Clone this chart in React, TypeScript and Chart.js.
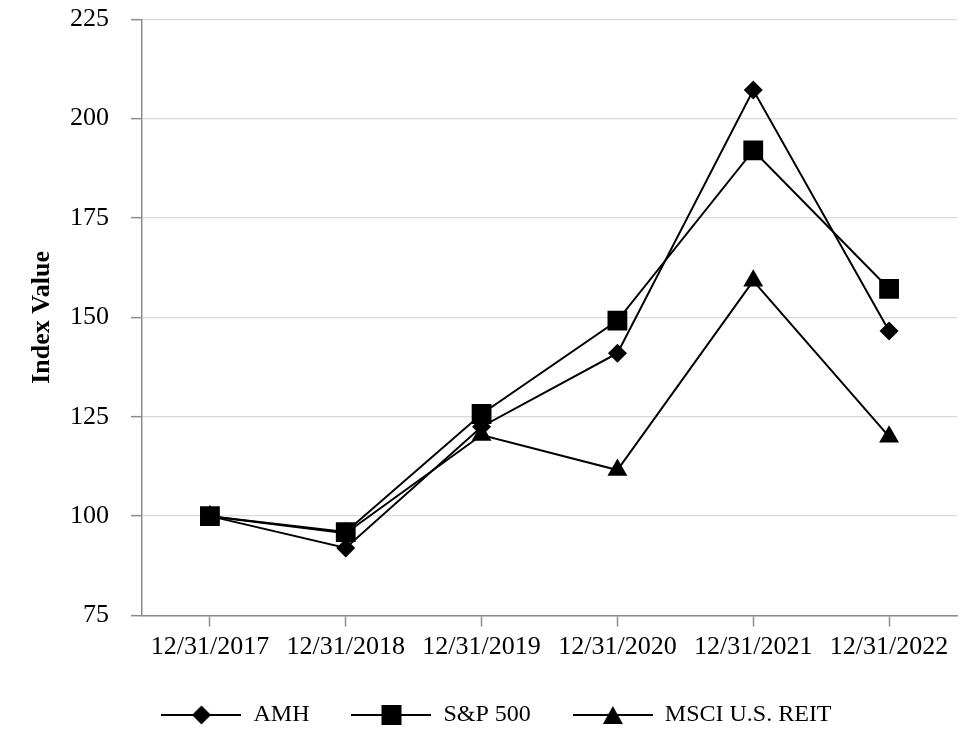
import React, { useEffect, useRef } from "react";
import { Chart, registerables } from "chart.js";

Chart.register(...registerables);

const categories = ["12/31/2017", "12/31/2018", "12/31/2019", "12/31/2020", "12/31/2021", "12/31/2022"];
const seriesNames = ["AMH", "S&P 500", "MSCI U.S. REIT"];
const amhValues = [100, 92.0, 122.5, 141.0, 207.2, 146.6];
const spValues = [100, 96.0, 125.7, 149.2, 192.0, 157.2];
const reitValues = [100, 95.7, 120.4, 111.6, 159.2, 120.0];
const yMin = 75;
const yMax = 225;
const yStep = 25;
const yTitle = "Index Value";

const FONT = "'Liberation Serif', 'Times New Roman', serif";

function makeLegendIcon(shape: string): HTMLCanvasElement {
  const c = document.createElement("canvas");
  c.width = 80;
  c.height = 24;
  const ctx = c.getContext("2d")!;
  ctx.strokeStyle = "#000";
  ctx.lineWidth = 2;
  ctx.beginPath();
  ctx.moveTo(0, 12);
  ctx.lineTo(80, 12);
  ctx.stroke();
  ctx.fillStyle = "#000";
  const cx = 40;
  const cy = 12;
  ctx.beginPath();
  if (shape === "rectRot") {
    const r = 9.5;
    ctx.moveTo(cx - r, cy);
    ctx.lineTo(cx, cy - r);
    ctx.lineTo(cx + r, cy);
    ctx.lineTo(cx, cy + r);
    ctx.closePath();
  } else if (shape === "rect") {
    const s = 10;
    ctx.rect(cx - s, cy - s, 2 * s, 2 * s);
  } else {
    ctx.moveTo(cx, cy - 9);
    ctx.lineTo(cx + 10, cy + 9);
    ctx.lineTo(cx - 10, cy + 9);
    ctx.closePath();
  }
  ctx.fill();
  return c;
}

export default function App() {
  const ref = useRef<HTMLCanvasElement | null>(null);

  useEffect(() => {
    if (!ref.current) return;
    const shapes = ["rectRot", "rect", "triangle"];
    const radii = [9.5, 14, 11.5];
    const values = [amhValues, spValues, reitValues];
    const icons = shapes.map((s) => makeLegendIcon(s));

    const chart = new Chart(ref.current, {
      type: "line",
      data: {
        labels: categories,
        datasets: seriesNames.map((name, i) => ({
          label: name,
          data: values[i],
          borderColor: "#000",
          backgroundColor: "#000",
          borderWidth: 2,
          pointStyle: shapes[i] as any,
          pointRadius: radii[i],
          pointHoverRadius: radii[i],
          pointBackgroundColor: "#000",
          pointBorderColor: "#000",
          pointBorderWidth: 0,
          tension: 0,
          fill: false,
        })),
      },
      options: {
        animation: false,
        responsive: true,
        maintainAspectRatio: false,
        layout: { padding: { left: 36, right: 23, top: 19.3, bottom: 19 } },
        plugins: {
          tooltip: { enabled: false },
          legend: {
            position: "bottom",
            labels: {
              usePointStyle: true,
              pointStyleWidth: 80,
              padding: 42,
              color: "#000",
              font: { family: FONT, size: 24 },
              generateLabels: (ch: any) => {
                const items = Chart.defaults.plugins.legend.labels.generateLabels(ch);
                return items.map((it: any, i: number) => ({ ...it, pointStyle: icons[i] }));
              },
            },
          },
        },
        scales: {
          x: {
            offset: true,
            grid: {
              offset: false,
              drawOnChartArea: false,
              tickLength: 11,
              tickColor: "#8c8c8c",
              tickWidth: 1.5,
            },
            border: { color: "#8c8c8c", width: 1.5 },
            ticks: {
              color: "#000",
              padding: 5,
              maxRotation: 0,
              autoSkip: false,
              font: { family: FONT, size: 26 },
            },
            afterFit: (scale: any) => {
              scale.height = 45.5;
            },
          },
          y: {
            min: yMin,
            max: yMax,
            ticks: {
              stepSize: yStep,
              color: "#000",
              padding: 22,
              font: { family: FONT, size: 26 },
            },
            grid: {
              color: "#d9d9d9",
              lineWidth: 1.3,
              tickLength: 11,
              tickColor: "#8c8c8c",
              tickWidth: 1.5,
            },
            border: { color: "#8c8c8c", width: 1.5 },
            title: {
              display: true,
              text: yTitle,
              color: "#000",
              padding: { top: -7, bottom: 0 },
              font: { family: FONT, size: 26, weight: "bold", lineHeight: 1 },
            },
            afterFit: (scale: any) => {
              scale.width = 106;
              scale.paddingTop = 0;
              scale.paddingBottom = 0;
            },
          },
        },
      },
    });
    return () => chart.destroy();
  }, []);

  return (
    <div style={{ position: "fixed", left: 0, top: 0, width: 980, height: 756, background: "#fff" }}>
      <canvas ref={ref} />
    </div>
  );
}
